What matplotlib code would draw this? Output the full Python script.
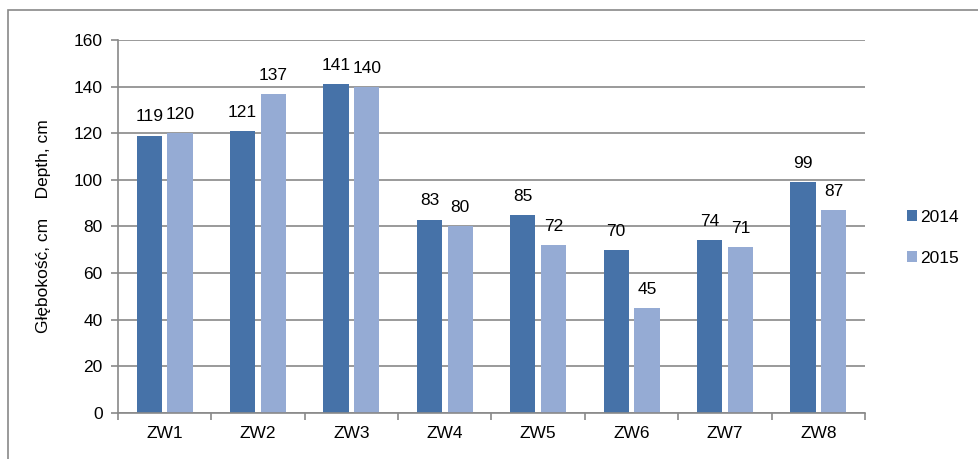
import matplotlib.pyplot as plt
import numpy as np
from matplotlib.patches import Rectangle

plt.rcParams['font.family'] = ['Liberation Sans', 'DejaVu Sans']

sites = ["ZW1", "ZW2", "ZW3", "ZW4", "ZW5", "ZW6", "ZW7", "ZW8"]
depth_2014 = [119, 121, 141, 83, 85, 70, 74, 99]
depth_2015 = [120, 137, 140, 80, 72, 45, 71, 87]
yticks = [0, 20, 40, 60, 80, 100, 120, 140, 160]

c2014 = "#4672A8"
c2015 = "#95ABD4"
gray = "#898989"
fs = 12.5

fig = plt.figure(figsize=(9.79, 4.59), dpi=100)
# outer chart border
fig.patches.append(Rectangle((8 / 979, -0.05), 1.2, (459 - 10) / 459 + 0.05,
                             transform=fig.transFigure, fill=False,
                             edgecolor=gray, linewidth=1.2))

ax = fig.add_axes([118 / 979, 1 - 413 / 459, (865 - 118) / 979, (413 - 40) / 459])

x = np.arange(len(sites))
w = 0.27
off = 0.165
b1 = ax.bar(x - off, depth_2014, w, color=c2014, label="2014")
b2 = ax.bar(x + off, depth_2015, w, color=c2015, label="2015")
ax.bar_label(b1, padding=8, fontsize=fs)
ax.bar_label(b2, padding=8, fontsize=fs)

ax.set_xlim(-0.5, len(sites) - 0.5)
ax.set_ylim(0, 160)
ax.set_yticks(yticks)
ax.set_xticks(x)
ax.set_xticklabels(sites, fontsize=fs)
ax.tick_params(axis='y', labelsize=fs, length=5, color=gray, width=1.2, pad=6)
ax.tick_params(axis='x', length=0, pad=9)
ax.set_xticks(np.arange(-0.5, len(sites) + 0.5, 1), minor=True)
ax.tick_params(axis='x', which='minor', length=5, color=gray, width=1.2, direction='out')

ax.yaxis.grid(True, color=gray, linewidth=1.2)
ax.set_axisbelow(True)
for s in ["top", "right"]:
    ax.spines[s].set_visible(False)
for s in ["left", "bottom"]:
    ax.spines[s].set_color(gray)
    ax.spines[s].set_linewidth(1.2)

ax.set_ylabel("Głębokość, cm    Depth, cm", fontsize=fs, labelpad=16)

ax.legend(loc="center left", bbox_to_anchor=(1.035, 0.47), frameon=False,
          fontsize=fs, handlelength=0.6, handleheight=0.6, handletextpad=0.15,
          labelspacing=1.5)

fig.savefig("out.png", dpi=100)
